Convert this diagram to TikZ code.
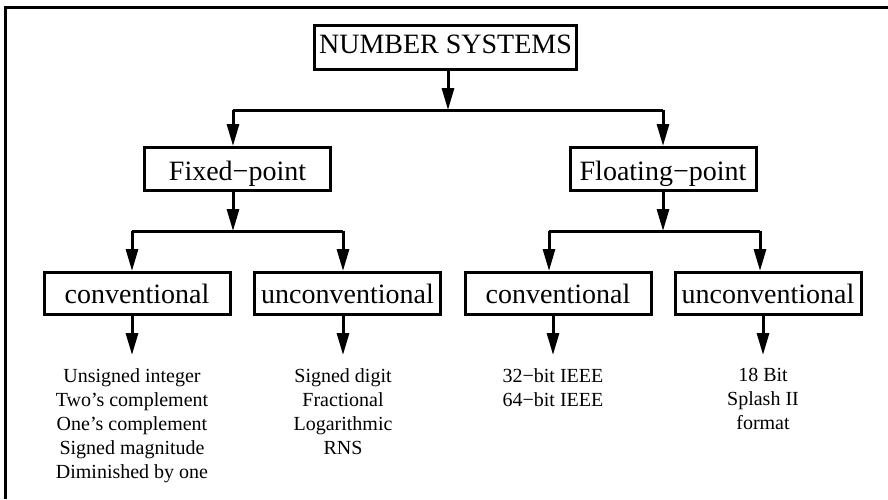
\documentclass[tikz,border=0pt]{standalone}
\usepackage{fontspec}
\setmainfont{Liberation Serif}
\usetikzlibrary{arrows.meta}
\begin{document}
\begin{tikzpicture}[x=1pt,y=-1pt,
  box/.style={draw,line width=3pt,inner sep=0pt,minimum width=186pt,font=\fontsize{28}{30}\selectfont,text depth=0pt},
  conn/.style={line width=3pt},
  arr/.style={line width=3pt,-{Triangle[length=22pt,width=12pt]}},
  list/.style={align=center,anchor=north,inner sep=0pt,font=\fontsize{20}{24}\selectfont}]
\useasboundingbox (0,0) rectangle (888,499);
% frame
\draw[line width=3pt] (5.2,499) -- (5.2,7) -- (888,7);
% boxes
\node[box,minimum width=262pt,minimum height=44pt,text height=11pt] (ns) at (445.5,47.5) {NUMBER SYSTEMS};
\node[box,minimum height=43pt,text height=22pt] (fix) at (237.5,169) {Fixed−point};
\node[box,minimum height=43pt,text height=22pt] (flo) at (663,169) {Floating−point};
\node[box,minimum height=42pt,text height=19pt] (lc) at (137,293.5) {conventional};
\node[box,minimum height=42pt,text height=19pt] (lu) at (347.5,293.5) {unconventional};
\node[box,minimum height=42pt,text height=19pt] (rc) at (558,293.5) {conventional};
\node[box,minimum height=42pt,text height=19pt] (ru) at (768,293.5) {unconventional};
% junction coordinates
\coordinate (j0) at (448,110);
\coordinate (j0l) at (233,110);
\coordinate (j0r) at (663,110);
\coordinate (j1) at (233,231);
\coordinate (j1l) at (132,231);
\coordinate (j1r) at (343,231);
\coordinate (j2) at (663,231);
\coordinate (j2l) at (549,231);
\coordinate (j2r) at (760,231);
% top level
\draw[arr] (ns.south -| j0) -- (j0);
\draw[conn] (j0l) -- (j0r);
\draw[arr] (j0l) -- (fix.north -| j0l);
\draw[arr] (j0r) -- (flo.north -| j0r);
% fixed point
\draw[arr] (fix.south -| j1) -- (j1);
\draw[conn] (j1l) -- (j1r);
\draw[arr] (j1l) -- (lc.north -| j1l);
\draw[arr] (j1r) -- (lu.north -| j1r);
% floating point
\draw[arr] (flo.south -| j2) -- (j2);
\draw[conn] (j2l) -- (j2r);
\draw[arr] (j2l) -- (rc.north -| j2l);
\draw[arr] (j2r) -- (ru.north -| j2r);
% lists
\node[list] (l1) at (132,368) {Unsigned integer\\Two’s complement\\One’s complement\\Signed magnitude\\Diminished by one};
\node[list] (l2) at (343,368) {Signed digit\\Fractional\\Logarithmic\\RNS};
\node[list] (l3) at (553,368) {32−bit IEEE\\64−bit IEEE};
\node[list] (l4) at (763,368) {18 Bit\\Splash II\\format};
\coordinate (a1) at (132,355);
\coordinate (a2) at (343,355);
\coordinate (a3) at (553,355);
\coordinate (a4) at (763,355);
\draw[arr] (lc.south -| a1) -- (a1);
\draw[arr] (lu.south -| a2) -- (a2);
\draw[arr] (rc.south -| a3) -- (a3);
\draw[arr] (ru.south -| a4) -- (a4);
\end{tikzpicture}
\end{document}
